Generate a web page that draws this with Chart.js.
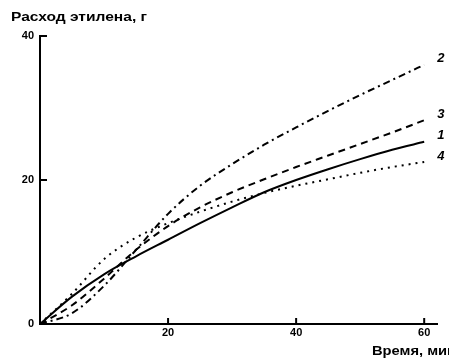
<!DOCTYPE html>
<html>
<head>
    <title>Расход этилена</title>
    <script src="https://cdn.jsdelivr.net/npm/chart.js"></script>
    <style>
        body {
            margin: 0;
            background-color: #ffffff;
        }
        .wrap {
            width: 449px;
            height: 360px;
        }
    </style>
</head>
<body>
    <div class="wrap">
        <canvas id="ethyleneChart" width="449" height="360"></canvas>
    </div>

    <script>
        // time, min
        var times = [0, 5, 10, 15, 20, 25, 30, 35, 40, 45, 50, 55, 60];
        // ethylene consumption, g
        var curve1 = [0, 3.8, 6.9, 9.4, 11.7, 14.0, 16.2, 18.3, 20.0, 21.5, 22.9, 24.2, 25.3];
        var curve2 = [0, 1.5, 5.3, 10.3, 15.3, 19.2, 22.2, 24.9, 27.3, 29.6, 31.8, 33.9, 36.0];
        var curve3 = [0, 2.6, 6.3, 10.3, 13.6, 16.2, 18.3, 20.1, 21.8, 23.4, 25.0, 26.6, 28.3];
        var curve4 = [0, 4.2, 9.0, 12.0, 14.0, 15.6, 17.0, 18.2, 19.2, 20.1, 21.0, 21.8, 22.5];
        var curveNames = ['1', '2', '3', '4'];
        var xTicks = [20, 40, 60];
        var yTicks = [0, 20, 40];

        function toPoints(values) {
            return values.map(function(v, i) {
                return { x: times[i], y: v };
            });
        }

        function lineSet(name, values, dash) {
            return {
                label: name,
                data: toPoints(values),
                borderColor: '#000000',
                borderWidth: 2,
                borderDash: dash,
                pointRadius: 0,
                cubicInterpolationMode: 'monotone',
                fill: false
            };
        }

        // wide bold text, stretched to the width seen in the scan
        function wideText(ctx, text, x, y, width) {
            var w = ctx.measureText(text).width;
            ctx.save();
            ctx.translate(x, y);
            ctx.scale(width / w, 1);
            ctx.fillText(text, 0, 0);
            ctx.restore();
        }

        // labels, inward ticks and axis captions
        var extrasPlugin = {
            id: 'extras',
            afterDraw: function(chart) {
                var ctx = chart.ctx;
                var xs = chart.scales.x;
                var ys = chart.scales.y;
                ctx.save();
                ctx.fillStyle = '#000000';
                ctx.strokeStyle = '#000000';
                ctx.lineWidth = 2;

                // inward tick marks
                xTicks.forEach(function(t) {
                    var px = xs.getPixelForValue(t);
                    ctx.beginPath();
                    ctx.moveTo(px, ys.bottom);
                    ctx.lineTo(px, ys.bottom - 6);
                    ctx.stroke();
                });
                yTicks.forEach(function(t) {
                    var py = ys.getPixelForValue(t);
                    ctx.beginPath();
                    ctx.moveTo(xs.left, py);
                    ctx.lineTo(xs.left + 7, py);
                    ctx.stroke();
                });

                // title and axis caption
                ctx.textBaseline = 'middle';
                ctx.textAlign = 'left';
                ctx.font = 'bold 13px "Liberation Sans", Arial, sans-serif';
                wideText(ctx, 'Расход этилена, г', 11, 17, 136);
                ctx.font = 'bold 12px "Liberation Sans", Arial, sans-serif';
                wideText(ctx, 'Время, мин', 372, 352, 84);

                // curve numbers at the right end
                ctx.font = 'italic bold 13px "Liberation Sans", Arial, sans-serif';
                chart.data.datasets.forEach(function(ds) {
                    var last = ds.data[ds.data.length - 1];
                    var px = xs.getPixelForValue(last.x);
                    var py = ys.getPixelForValue(last.y);
                    ctx.fillText(ds.label, px + 13, py - 6);
                });
                ctx.restore();
            }
        };

        var ctx = document.getElementById('ethyleneChart').getContext('2d');
        var ethyleneChart = new Chart(ctx, {
            type: 'line',
            data: {
                datasets: [
                    lineSet(curveNames[0], curve1, []),
                    lineSet(curveNames[1], curve2, [7, 4, 2, 4]),
                    lineSet(curveNames[2], curve3, [7, 5]),
                    lineSet(curveNames[3], curve4, [2, 5])
                ]
            },
            options: {
                responsive: false,
                animation: false,
                layout: {
                    padding: { top: 36, right: 12, left: 0, bottom: 0 }
                },
                plugins: {
                    legend: { display: false },
                    tooltip: { enabled: false }
                },
                scales: {
                    x: {
                        type: 'linear',
                        min: 0,
                        max: 62,
                        grid: { display: false, drawTicks: false },
                        border: { display: true, color: '#000000', width: 2 },
                        afterFit: function(scale) { scale.height = 36; },
                        afterBuildTicks: function(scale) {
                            scale.ticks = xTicks.map(function(v) { return { value: v }; });
                        },
                        ticks: {
                            color: '#000000',
                            padding: 2,
                            maxRotation: 0,
                            font: { family: '"Liberation Sans", Arial, sans-serif', size: 11, weight: 'bold' }
                        }
                    },
                    y: {
                        type: 'linear',
                        min: 0,
                        max: 40,
                        grid: { display: false, drawTicks: false },
                        border: { display: true, color: '#000000', width: 2 },
                        afterFit: function(scale) { scale.width = 40; },
                        afterBuildTicks: function(scale) {
                            scale.ticks = yTicks.map(function(v) { return { value: v }; });
                        },
                        ticks: {
                            color: '#000000',
                            padding: 6,
                            font: { family: '"Liberation Sans", Arial, sans-serif', size: 11, weight: 'bold' }
                        }
                    }
                }
            },
            plugins: [extrasPlugin]
        });
    </script>
</body>
</html>
